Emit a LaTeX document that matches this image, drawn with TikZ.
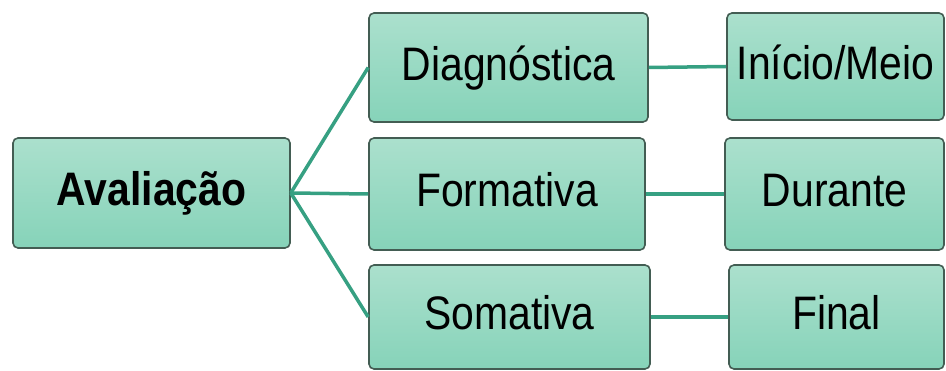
\documentclass[tikz,border=0pt]{standalone}
\usepackage{fontspec}
\setmainfont{Liberation Sans}[FakeStretch=0.87]
\definecolor{boxtop}{HTML}{ABE0CD}
\definecolor{boxbot}{HTML}{86D3B9}
\definecolor{boxborder}{HTML}{435D53}
\definecolor{linkcol}{HTML}{36A082}
\begin{document}
\begin{tikzpicture}[x=1pt,y=-1pt,
  box/.style={draw=boxborder, line width=1.6pt, rounded corners=5pt,
    top color=boxtop, bottom color=boxbot, inner sep=0pt,
    text height=34pt, text depth=8pt,
    font=\fontsize{47}{50}\selectfont, text=black},
  link/.style={draw=linkcol, line width=3.5pt}]
\useasboundingbox (0,0) rectangle (946,371);
\node[box, minimum width=277pt, minimum height=110pt, font=\fontsize{47}{50}\selectfont\bfseries] (av) at (151.5,193) {Avaliação};
\node[box, minimum width=279pt, minimum height=109pt] (dg) at (508.5,67.5) {Diagnóstica};
\node[box, minimum width=276pt, minimum height=112pt] (fo) at (507,194) {Formativa};
\node[box, minimum width=281pt, minimum height=104pt] (so) at (509.5,317) {Somativa};
\node[box, minimum width=217pt, minimum height=107pt] (im) at (835.5,66.5) {Início/Meio};
\node[box, minimum width=219pt, minimum height=112pt] (du) at (834.5,194) {Durante};
\node[box, minimum width=215pt, minimum height=104pt] (fi) at (836.5,317) {Final};
\draw[link] (av.east) -- (dg.west);
\draw[link] (av.east) -- (fo.west);
\draw[link] (av.east) -- (so.west);
\draw[link] (dg.east) -- (im.west);
\draw[link] (fo.east) -- (du.west);
\draw[link] (so.east) -- (fi.west);
\end{tikzpicture}
\end{document}
